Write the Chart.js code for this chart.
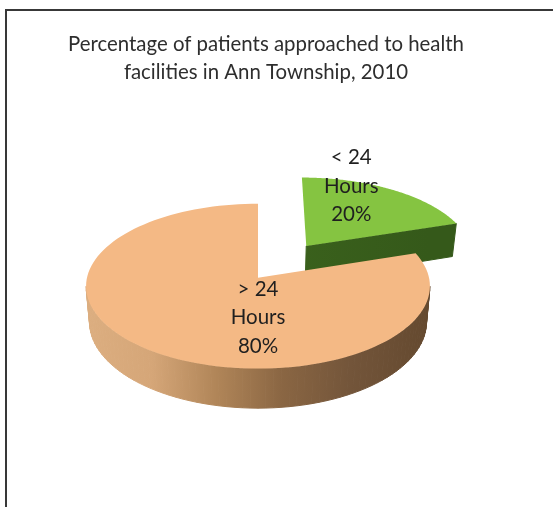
<!DOCTYPE html>
<html>
<head>
<meta charset="utf-8">
<title>Percentage of patients</title>
<script src="https://cdn.jsdelivr.net/npm/chart.js@4"></script>
<style>
  html, body { margin: 0; padding: 0; background: #fff; }
  #frame {
    position: absolute; left: 5px; top: 9px; width: 548px; height: 498px;
    border-left: 2px solid #383838; border-top: 2px solid #383838; box-sizing: border-box;
  }
  #chart { position: absolute; left: 0; top: 0; }
</style>
</head>
<body>
<div id="frame"></div>
<canvas id="chart" width="532" height="507"></canvas>
<script>
// Chart data
const titleLines = ['Percentage of patients approached to health', 'facilities in Ann Township, 2010']
const categories = [['< 24', 'Hours'], ['> 24', 'Hours']]
const percentages = [20, 80]
const topColors = ['#85c441', '#f4b985']

// 3D look of the pie
const PIE_DX = -8       // title is centred on the canvas, the pie sits a bit left of it
const TILT = 0.477      // height of the disc against its width
const PERSPECTIVE = -0.103
const DEPTH = 35.5
const FLOOR_SCALE = 0.98
const POP_OUT = [0.5, 0]
const LABEL_AT = [[0.323, -0.867], [0, 0.467]]
const LABEL_LINE = 28.5

const peachWall = [[0, '#dcae80'], [0.19, '#d5a678'], [0.38, '#b08558'], [0.57, '#8a6643'], [0.77, '#73553a'], [1, '#64492f']]
const greenWall = [[0, '#416c1f'], [1, '#35591a']]

function project(cx, cy, r, u, v) {
  const w = 1 + PERSPECTIVE * v
  return { x: cx + r * u / w, y: cy + r * TILT * v / w, w }
}

function sliceOutline(arc, index) {
  const mid = (arc.startAngle + arc.endAngle) / 2
  const ou = Math.cos(mid) * POP_OUT[index]
  const ov = Math.sin(mid) * POP_OUT[index]
  const pts = [[ou, ov]]
  const steps = 120
  for (let i = 0; i <= steps; i++) {
    const a = arc.startAngle + (arc.endAngle - arc.startAngle) * i / steps
    pts.push([ou + Math.cos(a), ov + Math.sin(a)])
  }
  return { pts, ou, ov }
}

function wallFill(ctx, cx, r, stops) {
  const g = ctx.createLinearGradient(cx - r, 0, cx + r, 0)
  stops.forEach(s => g.addColorStop(s[0], s[1]))
  return g
}

const pie3d = {
  id: 'pie3d',
  beforeDatasetDraw(chart, args) {
    const ctx = chart.ctx
    const arcs = args.meta.data
    ctx.save()
    arcs.forEach((arc, i) => {
      const cx = arc.x + PIE_DX
      const cy = arc.y
      const r = arc.outerRadius
      const { pts } = sliceOutline(arc, i)
      const top = pts.map(p => project(cx, cy, r, p[0], p[1]))
      const floor = top.map(p => ({ x: cx + (p.x - cx) * FLOOR_SCALE, y: p.y + DEPTH / p.w }))

      // side walls, only the ones facing the viewer
      const fill = wallFill(ctx, cx, r, i === 0 ? greenWall : peachWall)
      ctx.fillStyle = fill
      ctx.strokeStyle = fill
      ctx.lineWidth = 1
      for (let k = 1; k < top.length; k++) {
        const n = (k + 1) % top.length
        if (top[n].x >= top[k].x) continue
        ctx.beginPath()
        ctx.moveTo(top[k].x, top[k].y)
        ctx.lineTo(top[n].x, top[n].y)
        ctx.lineTo(floor[n].x, floor[n].y)
        ctx.lineTo(floor[k].x, floor[k].y)
        ctx.closePath()
        ctx.fill()
        ctx.stroke()
      }

      // top face
      ctx.fillStyle = arc.options.backgroundColor
      ctx.beginPath()
      top.forEach((p, k) => (k ? ctx.lineTo(p.x, p.y) : ctx.moveTo(p.x, p.y)))
      ctx.closePath()
      ctx.fill()
    })

    // data labels
    ctx.fillStyle = '#1f1f1f'
    ctx.font = '20.5px Lato'
    ctx.textAlign = 'center'
    ctx.textBaseline = 'middle'
    arcs.forEach((arc, i) => {
      const { ou, ov } = sliceOutline(arc, i)
      const p = project(arc.x + PIE_DX, arc.y, arc.outerRadius, ou + LABEL_AT[i][0], ov + LABEL_AT[i][1])
      const lines = [...categories[i], percentages[i] + '%']
      lines.forEach((line, k) => ctx.fillText(line, p.x, p.y + (k - 1) * LABEL_LINE))
    })
    ctx.restore()
    return false
  }
}

new Chart(document.getElementById('chart'), {
  type: 'pie',
  data: {
    labels: categories,
    datasets: [{ data: percentages, backgroundColor: topColors, borderWidth: 0 }]
  },
  options: {
    responsive: false,
    animation: false,
    devicePixelRatio: 1,
    radius: 171,
    layout: { padding: { bottom: 48 } },
    plugins: {
      legend: { display: false },
      tooltip: { enabled: false },
      title: {
        display: true,
        text: titleLines,
        color: '#2e2e2e',
        font: { family: 'Lato', size: 20.4, weight: 'normal', lineHeight: 1.38 },
        padding: { top: 30, bottom: 10 }
      }
    }
  },
  plugins: [pie3d]
})
</script>
</body>
</html>
